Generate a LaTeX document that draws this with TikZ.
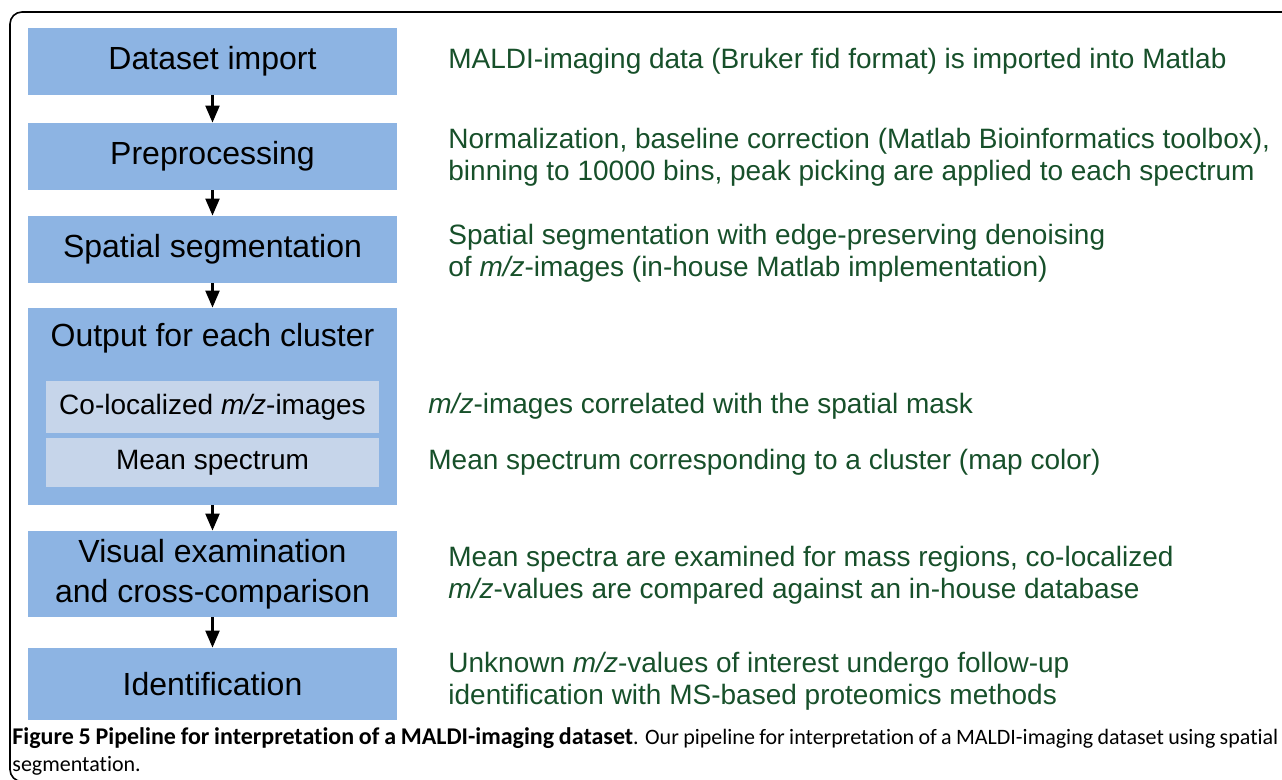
\documentclass[tikz,border=0pt]{standalone}
\usepackage{fontspec}
\setmainfont{Liberation Sans}
\newfontfamily\capfont[Ligatures=NoCommon]{Carlito}
\usetikzlibrary{arrows.meta}
\definecolor{boxblue}{HTML}{8DB4E3}
\definecolor{innerblue}{HTML}{C6D5EA}
\definecolor{notegreen}{HTML}{17502A}

\begin{document}
\begin{tikzpicture}[x=0.5pt,y=-0.5pt,
  box/.style={rectangle,fill=boxblue,minimum width=184.5pt,minimum height=33.5pt,align=center,inner sep=0pt,font=\fontsize{16}{20}\selectfont},
  inbox/.style={rectangle,fill=innerblue,minimum width=166.5pt,minimum height=26pt,inner sep=0pt,font=\fontsize{14}{16}\selectfont},
  note/.style={anchor=west,inner sep=0pt,align=left,text=notegreen,font=\fontsize{14}{16}\selectfont},
  flow/.style={-{Triangle[width=7pt,length=8.5pt]},line width=1.1pt}]
\useasboundingbox (0,0) rectangle (1282,780);
\clip (0,0) rectangle (1282,780);
% frame
\draw[line width=0.8pt,rounded corners=6pt] (1300,12) -- (10,12) -- (10,781.5) -- (1300,781.5);
% pipeline
\node[box] (import) at (212.5,61.5) {Dataset import};
\node[box] (prep) at (212.5,156.5) {Preprocessing};
\node[box] (segm) at (212.5,249.5) {Spatial segmentation};
\node[box,minimum height=98.5pt] (output) at (212.5,406.5) {};
\node[font=\fontsize{16}{20}\selectfont,inner sep=0pt] (outtitle) at (212.5,338) {Output for each cluster};
\node[inbox] (coloc) at (212.5,407) {Co-localized \textit{m/z}-images};
\node[inbox,minimum height=24.5pt] (meanspec) at (212.5,462.5) {Mean spectrum};
\node[box,minimum height=43pt] (visual) at (212.5,574) {Visual examination\\and cross-comparison};
\node[box,minimum height=36pt] (ident) at (212.5,684) {Identification};
\draw[flow] (import) -- (prep);
\draw[flow] (prep) -- (segm);
\draw[flow] (segm) -- (output);
\draw[flow] (output) -- (visual);
\draw[flow] (visual) -- (ident);
% descriptions
\node[note] (importtxt) at (448,61) {MALDI-imaging data (Bruker fid format) is imported into Matlab};
\node[note] (preptxt) at (448,157) {Normalization, baseline correction (Matlab Bioinformatics toolbox),\\binning to 10000 bins, peak picking are applied to each spectrum};
\node[note] (segmtxt) at (448,253) {Spatial segmentation with edge-preserving denoising\\of \textit{m/z}-images (in-house Matlab implementation)};
\node[note] (coloctxt) at (428,406) {\textit{m/z}-images correlated with the spatial mask};
\node[note] (meantxt) at (428,462) {Mean spectrum corresponding to a cluster (map color)};
\node[note] (visualtxt) at (448,575) {Mean spectra are examined for mass regions, co-localized\\\textit{m/z}-values are compared against an in-house database};
\node[note] (identtxt) at (448,681) {Unknown \textit{m/z}-values of interest undergo follow-up\\identification with MS-based proteomics methods};
% caption
\node[anchor=north west,inner sep=0pt,text width=633pt,align=justify,font=\capfont\fontsize{11}{13.5}\selectfont] (caption) at (12,727)
  {{\fontsize{12}{13.5}\selectfont\textbf{Figure 5 Pipeline for interpretation of a MALDI-imaging dataset}}. Our pipeline for interpretation of a MALDI-imaging dataset using spatial segmentation.};
\end{tikzpicture}
\end{document}
